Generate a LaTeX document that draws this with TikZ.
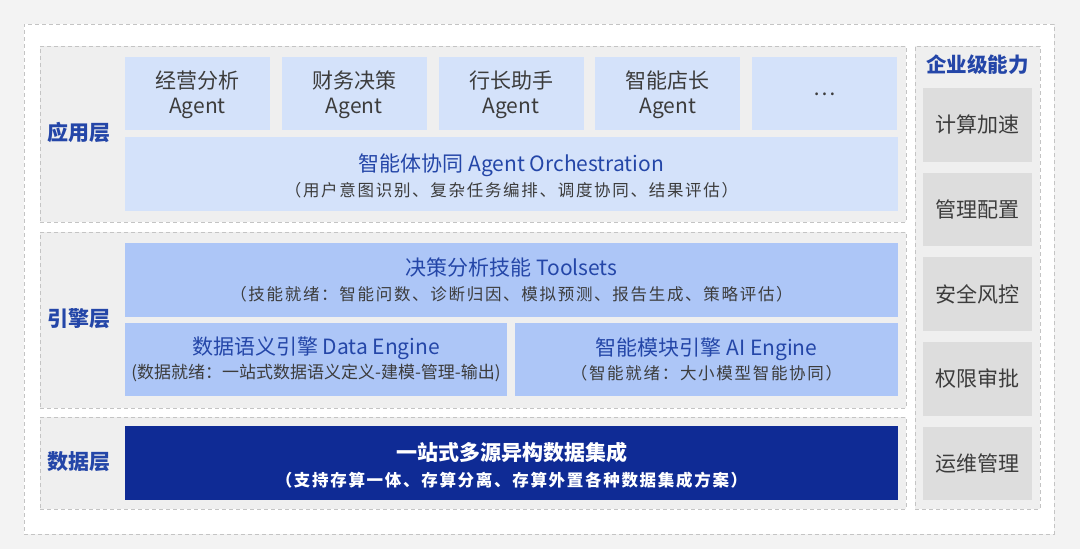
\documentclass[tikz,border=0pt]{standalone}
\usepackage{fontspec}
\setmainfont{Noto Sans CJK SC}
\newfontfamily\spacedfont[LetterSpace=10.3]{Noto Sans CJK SC}
\definecolor{bgc}{HTML}{F3F3F3}
\definecolor{layerc}{HTML}{EFEFEF}
\definecolor{dashc}{HTML}{C4C4C4}
\definecolor{agentc}{HTML}{D4E2FA}
\definecolor{toolc}{HTML}{ADC6F7}
\definecolor{darkc}{HTML}{0F2B95}
\definecolor{grayc}{HTML}{DDDDDD}
\definecolor{bluet}{HTML}{2446A8}
\definecolor{textc}{HTML}{3C3C3C}
\begin{document}
\begin{tikzpicture}[x=1pt,y=-1pt,
  box/.style={inner sep=0pt, outer sep=0pt, anchor=north west},
  dashedbox/.style={box, draw=dashc, line width=0.8pt, dash pattern=on 4pt off 3pt},
  layerbox/.style={dashedbox, fill=layerc},
  agentbox/.style={box, fill=agentc, minimum width=145pt, minimum height=73pt},
  orchbox/.style={box, fill=agentc},
  toolbox/.style={box, fill=toolc},
  darkbox/.style={box, fill=darkc},
  graybox/.style={box, fill=grayc, text=textc, align=center, font=\fontsize{21}{24}\selectfont, minimum width=109pt, minimum height=73.5pt},
  txt/.style={inner sep=0pt, align=center},
  agenttext/.style={txt, text=textc, font=\fontsize{21}{25}\selectfont},
  bluetext/.style={txt, text=bluet, font=\fontsize{21}{25}\selectfont},
  whitetext/.style={txt, text=white, font=\bfseries\fontsize{21}{26}\selectfont},
  layerlabel/.style={inner sep=0pt, text=bluet, font=\bfseries\fontsize{21}{24}\selectfont}
]
\newcommand{\subt}[1]{{\spacedfont\fontsize{16.5}{20}\selectfont\color{textc}#1}}
\newcommand{\subd}[1]{{\fontsize{17}{20}\selectfont\color{textc}#1}}
\newcommand{\subw}[1]{{\spacedfont\bfseries\fontsize{16.5}{20}\selectfont #1}}
\useasboundingbox (0,0) rectangle (1080,549);
\fill[bgc] (0,0) rectangle (1080,549);
% outer white frame
\node[dashedbox, fill=white, minimum width=1030pt, minimum height=510pt] (outer) at (24,24) {};
% layers
\node[layerbox, minimum width=866pt, minimum height=176pt] (app) at (40,46) {};
\node[layerbox, minimum width=866pt, minimum height=176pt] (eng) at (40,232) {};
\node[layerbox, minimum width=866pt, minimum height=92pt] (dat) at (40,417) {};
\node[layerbox, minimum width=125pt, minimum height=463pt] (ent) at (915,46) {};
% layer labels
\node[layerlabel] (appl) at (78.5,132) {应用层};
\node[layerlabel] (engl) at (78.5,319) {引擎层};
\node[layerlabel] (datl) at (78.5,462) {数据层};
\node[layerlabel, font=\bfseries\fontsize{20.5}{24}\selectfont] (entl) at (977.5,65) {企业级能力};
% agents
\node[agentbox] (a1) at (125,56.5) {};
\node[agentbox] (a2) at (281.75,56.5) {};
\node[agentbox] (a3) at (438.5,56.5) {};
\node[agentbox] (a4) at (595.25,56.5) {};
\node[agentbox] (a5) at (752,56.5) {};
\node[agenttext] (a1t) at ([yshift=-2pt]a1.center) {经营分析\\Agent};
\node[agenttext] (a2t) at ([yshift=-2pt]a2.center) {财务决策\\Agent};
\node[agenttext] (a3t) at ([yshift=-2pt]a3.center) {行长助手\\Agent};
\node[agenttext] (a4t) at ([yshift=-2pt]a4.center) {智能店长\\Agent};
\node[agenttext] (a5t) at ([yshift=-1pt]a5.center) {…};
\node[orchbox, minimum width=773pt, minimum height=74pt] (orch) at (125,136.5) {};
\node[bluetext] (orcht) at ([yshift=-2.5pt]orch.center) {智能体协同 Agent Orchestration\\\subt{（用户意图识别、复杂任务编排、调度协同、结果评估）}};
% engine layer
\node[toolbox, minimum width=773pt, minimum height=74pt] (tools) at (125,242.5) {};
\node[bluetext] (toolst) at ([yshift=-0.5pt]tools.center) {决策分析技能 Toolsets\\\subt{（技能就绪：智能问数、诊断归因、模拟预测、报告生成、策略评估）}};
\node[toolbox, minimum width=382pt, minimum height=73.5pt] (de) at (125,322.5) {};
\node[bluetext, font=\fontsize{21}{24}\selectfont] (det) at (de.center) {数据语义引擎 Data Engine\\\subd{(数据就绪：一站式数据语义定义-建模-管理-输出)}};
\node[toolbox, minimum width=383pt, minimum height=73.5pt] (ai) at (515,322.5) {};
\node[bluetext, font=\fontsize{21}{24}\selectfont] (ait) at (ai.center) {智能模块引擎 AI Engine\\\subt{（智能就绪：大小模型智能协同）}};
% data layer
\node[darkbox, minimum width=773pt, minimum height=73.5pt] (di) at (125,426) {};
\node[whitetext] (dit) at ([yshift=-2pt]di.center) {一站式多源异构数据集成\\\subw{（支持存算一体、存算分离、存算外置各种数据集成方案）}};
% enterprise capabilities
\node[graybox] (g1) at (923,88) {计算加速};
\node[graybox] (g2) at (923,172.7) {管理配置};
\node[graybox] (g3) at (923,257.3) {安全风控};
\node[graybox] (g4) at (923,342) {权限审批};
\node[graybox] (g5) at (923,426.7) {运维管理};
\end{tikzpicture}
\end{document}
